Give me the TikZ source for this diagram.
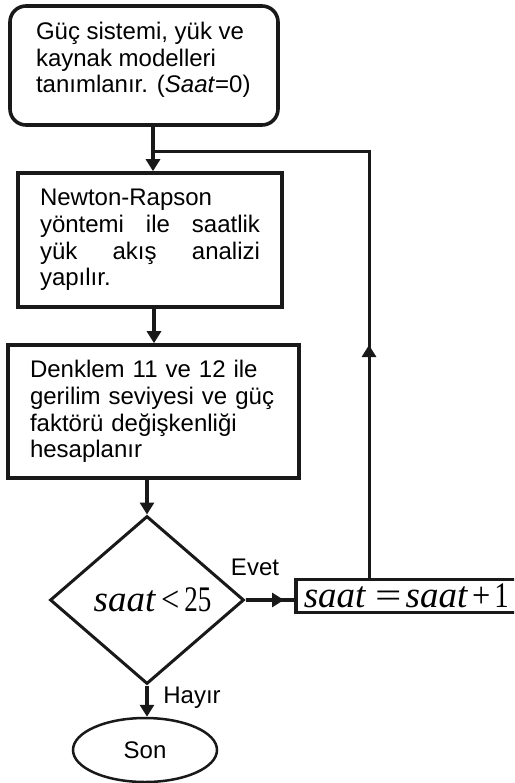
\documentclass[tikz,border=0pt]{standalone}
\usepackage{fontspec}
\usepackage{graphicx}
\setmainfont{Liberation Sans}
\newfontfamily\tms{Liberation Serif}
\usetikzlibrary{shapes.geometric,arrows.meta}
\newcommand\saatw{{\fontsize{37pt}{38pt}\selectfont\textit{saat}}}
\begin{document}
\begin{tikzpicture}[x=1pt,y=-1pt,
  txt/.style={font=\fontsize{24pt}{26.8pt}\selectfont},
  box/.style={draw=black!90, line width=3.6pt, rectangle, txt},
  rbox/.style={box, rounded corners=16pt},
  decbox/.style={draw=black!90, line width=3pt, shape=diamond, inner sep=0pt,
    minimum width=194pt, minimum height=168pt},
  endbox/.style={draw=black!90, line width=2.5pt, shape=ellipse, inner sep=0pt,
    minimum width=144pt, minimum height=64pt, txt},
  lbl/.style={txt, inner sep=0pt},
  arr/.style={draw=black!90, line width=4pt, -{Triangle[length=12pt,width=14pt]}},
  plain/.style={draw=black!90, line width=4pt},
  loopline/.style={draw=black!90, line width=3pt},
  looparr/.style={draw=black!90, line width=3pt, -{Triangle[length=12pt,width=14pt]}}
]
\useasboundingbox (0,0) rectangle (514,783);
\clip (0,0) rectangle (514,783);

% nodes
\node[rbox, minimum width=268pt, minimum height=119pt, inner sep=0pt] (start) at (144,65.5)
  {\begin{minipage}[c][87pt][t]{216pt}\raggedright
   Güç sistemi, yük ve\\kaynak modelleri\\tanımlanır. (\textit{Saat}=0)\end{minipage}};

\node[box, minimum width=264pt, minimum height=134pt, text width=220pt, align=left, inner sep=0pt] (nr) at (150,240)
  {Newton-Rapson\\
   \leavevmode\hbox to 220pt{yöntemi\hfill ile\hfill saatlik}\\
   \leavevmode\hbox to 220pt{yük\hfill akış\hfill analizi}\\
   yapılır.};

\node[box, minimum width=291pt, minimum height=133pt, text width=247pt, align=left, inner sep=0pt] (denk) at (153.5,411.5)
  {Denklem 11 ve 12 ile\\gerilim seviyesi ve güç\\faktörü değişkenliği\\hesaplanır};

\node[decbox] (dec) at (147,600)
  {\hspace*{11pt}{\tms\fontsize{36pt}{37pt}\selectfont\saatw\hspace{5pt}\scalebox{0.9}[1]{<}\hspace{5pt}\scalebox{0.75}[1]{25}}};

\node[box, anchor=west, minimum height=33pt, text width=226pt, align=left, inner xsep=8pt, inner ysep=0pt] (inc) at (294,596)
  {{\tms\fontsize{36pt}{37pt}\selectfont\saatw\hspace{9pt}\scalebox{1.3}[1]{=}\hspace{4pt}\saatw\hspace{4pt}\scalebox{0.9}[1]{+}\hspace{4pt}\scalebox{0.8}[1]{1}}};

\node[endbox] (son) at (145,750) {Son};

\node[lbl] (evet) at (255,567) {Evet};
\node[lbl] (hayir) at (192,698) {Hayır};

% helper coordinates
\coordinate (ax) at (153,140);
\coordinate (bx) at (154,320);
\coordinate (jn) at (153,152);
\coordinate (lc) at (369,152);
\coordinate (lm) at (369,345);
\coordinate (em) at (284,600);

% connectors
\draw[arr] (start.south -| ax) -- (nr.north -| ax);
\draw[arr] (nr.south -| bx) -- (denk.north -| bx);
\draw[arr] (denk.south -| dec.north) -- (dec.north);
\draw[plain] (dec.east) -- (dec.east -| inc.west);
\draw[arr] (dec.east) -- (em);
\draw[arr] (dec.south) -- (son.north -| dec.south);
\draw[loopline] (inc.north -| lc) -- (lc) -- (jn);
\draw[looparr] (inc.north -| lc) -- (lm);
\end{tikzpicture}
\end{document}
